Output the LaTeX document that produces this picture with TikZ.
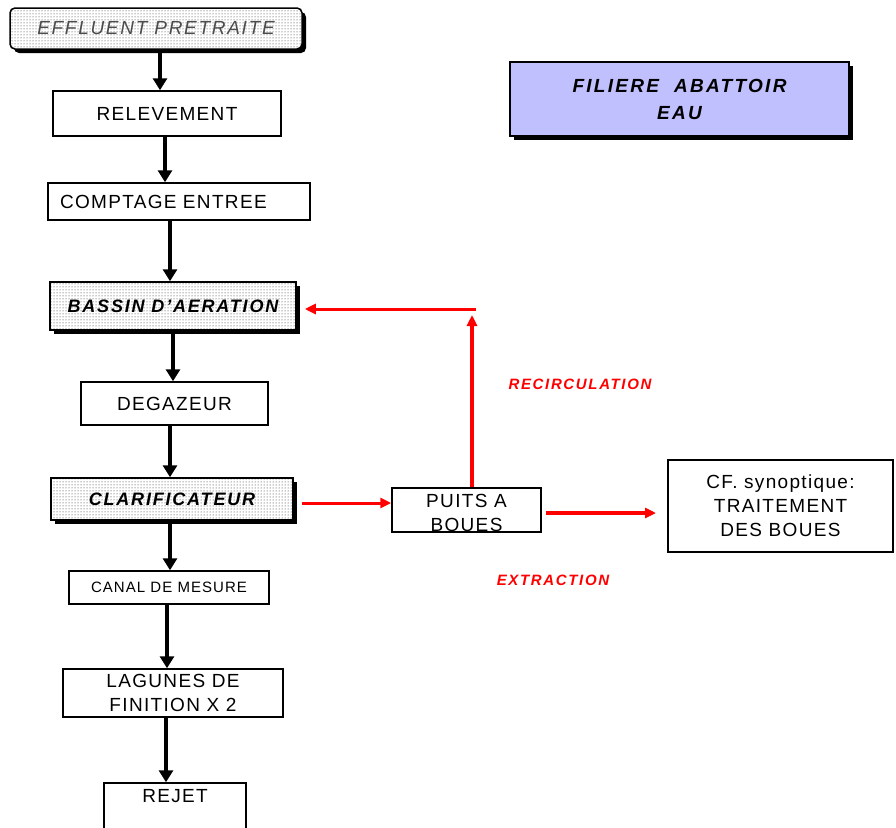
\documentclass[tikz,border=0pt]{standalone}
\usepackage{fontspec}
\setmainfont{Liberation Sans}[LetterSpace=7]
\usetikzlibrary{arrows.meta,shadows,patterns}

\definecolor{lavender}{RGB}{192,192,255}
\definecolor{flowred}{RGB}{255,0,0}

\begin{document}
\begin{tikzpicture}[x=1pt,y=-1pt,
  box/.style={draw=black,line width=1.5pt,fill=white,inner sep=0pt,align=center,
    font=\fontsize{19}{24}\selectfont},
  shadowbox/.style={drop shadow={shadow xshift=4pt,shadow yshift=-4pt,fill=black,opacity=1}},
  dotbox/.style={box,shadowbox,preaction={fill=white},pattern=dots,pattern color=black!85},
  arr/.style={line width=4.5pt,-{Triangle[length=12pt,width=14pt]}},
  redarr/.style={draw=flowred,line width=3pt,-{Triangle[length=11pt,width=10pt]}},
  redlabel/.style={text=flowred,font=\fontsize{15}{18}\selectfont\bfseries\itshape\addfontfeatures{LetterSpace=11}}
]
\useasboundingbox (0,0) rectangle (896,827);

% main treatment chain
\node[dotbox,rounded corners=5pt,minimum width=292pt,minimum height=41pt,
      text=black!70,font=\fontsize{19}{24}\selectfont\itshape\addfontfeatures{LetterSpace=9}] (eff) at (156,28.5) {EFFLUENT PRETRAITE};
\node[box,minimum width=228pt,minimum height=45pt] (rel) at (167,113.5) {RELEVEMENT};
\node[box,minimum width=262pt,minimum height=37pt,text width=238pt,inner xsep=12pt,align=left] (comp) at (179,201.5) {COMPTAGE ENTREE};
\node[dotbox,minimum width=246pt,minimum height=48pt,
      font=\fontsize{18}{24}\selectfont\bfseries\itshape\addfontfeatures{LetterSpace=10}] (bassin) at (173,306) {BASSIN D'AERATION};
\node[box,minimum width=187pt,minimum height=43pt] (degaz) at (174.5,403.5) {DEGAZEUR};
\node[dotbox,minimum width=242pt,minimum height=42pt,
      font=\fontsize{18}{24}\selectfont\bfseries\itshape\addfontfeatures{LetterSpace=10}] (clar) at (172,499) {CLARIFICATEUR};
\node[box,minimum width=200pt,minimum height=33pt,font=\fontsize{15}{18}\selectfont] (canal) at (169,587.5) {CANAL DE MESURE};
\node[box,minimum width=220pt,minimum height=48pt] (lag) at (173,693) {LAGUNES DE\\FINITION X 2};
\node[box,minimum width=142pt,minimum height=60pt] (rejet) at (175,813) {};
\node[font=\fontsize{19}{24}\selectfont,anchor=north,inner sep=0pt] (rejettxt) at ([yshift=-7pt]rejet.north) {REJET};

% sludge branch
\node[box,minimum width=149pt,minimum height=44pt] (puits) at (466.5,510) {};
\node[align=center,inner sep=0pt,font=\fontsize{19}{24}\selectfont] (puitstxt) at ([yshift=-3pt]puits.center) {PUITS A\\BOUES};
\node[box,line width=2pt,minimum width=225pt,minimum height=92pt] (cf) at (780.5,506) {CF. synoptique:\\TRAITEMENT\\DES BOUES};

% title
\node[box,shadowbox,fill=lavender,minimum width=339pt,minimum height=74pt,
      font=\fontsize{19}{27}\selectfont\bfseries\itshape\addfontfeatures{LetterSpace=12}] (title) at (679.5,99) {FILIERE~~ABATTOIR\\EAU};

% black flow arrows
\draw[arr] ([xshift=4pt]eff.south) -- ([xshift=4pt]eff.south |- rel.north);
\draw[arr] ([xshift=-2pt]rel.south) -- ([xshift=-2pt]rel.south |- comp.north);
\draw[arr] ([xshift=-9pt]comp.south) -- ([xshift=-9pt]comp.south |- bassin.north);
\draw[arr] (bassin.south) -- (bassin.south |- degaz.north);
\draw[arr] ([xshift=-4.5pt]degaz.south) -- ([xshift=-4.5pt]degaz.south |- clar.north);
\draw[arr] ([xshift=-2pt]clar.south) -- ([xshift=-2pt]clar.south |- canal.north);
\draw[arr] ([xshift=-2pt]canal.south) -- ([xshift=-2pt]canal.south |- lag.north);
\draw[arr] ([xshift=-7pt]lag.south) -- ([xshift=-7pt]lag.south |- rejet.north);

% red sludge flows
\coordinate (bin) at ([xshift=8pt]bassin.east);
\coordinate (rtop) at (472,315);
\coordinate (rcorner) at (476,309);
\coordinate (cfin) at ([xshift=-11pt]cf.west);
\draw[redarr] ([xshift=8pt,yshift=-4pt]clar.east) coordinate (c1) -- (c1 -| puits.west);
\draw[redarr,line width=4.5pt] ([xshift=5.5pt]puits.north) -- (rtop);
\draw[redarr] (rcorner) -- (rcorner -| bin);
\draw[redarr,line width=4.5pt] ([xshift=4pt,yshift=-3pt]puits.east) coordinate (e1) -- (e1 -| cfin);

\node[redlabel] (recirc) at (580,384) {RECIRCULATION};
\node[redlabel] (extr) at (553,580) {EXTRACTION};
\end{tikzpicture}
\end{document}
